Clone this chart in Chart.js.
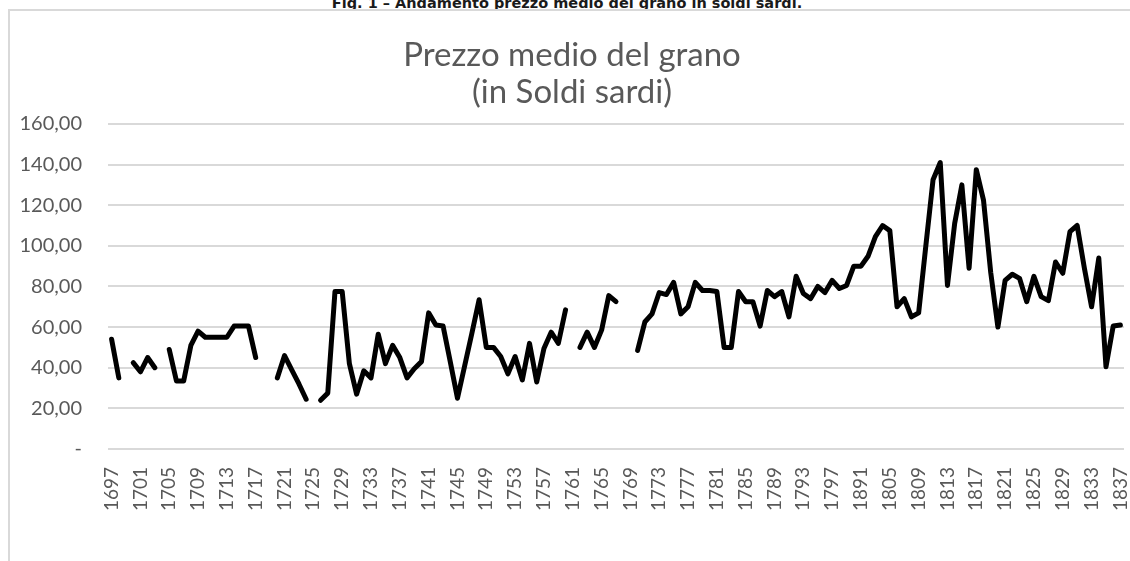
<!DOCTYPE html>
<html>
<head>
<meta charset="utf-8">
<script src="https://cdn.jsdelivr.net/npm/chart.js@4.4.1/dist/chart.umd.min.js"></script>
<style>
    html, body { margin: 0; padding: 0; background: #ffffff; overflow: hidden; }
    #wrap { position: relative; width: 1130px; height: 561px; }
    #caption {
        position: absolute; left: 0; top: -5px; width: 1134px;
        text-align: center; font-family: 'DejaVu Sans', sans-serif;
        font-size: 14.5px; font-weight: bold; color: #1a1a1a; white-space: nowrap;
        line-height: 17px;
    }
    #frame {
        position: absolute; left: 8px; top: 9px; width: 1140px; height: 600px;
        border: 2px solid #d9d9d9; box-sizing: border-box;
    }
    #prezzoChart { position: absolute; left: 0; top: 0; }
</style>
</head>
<body>
<div id="wrap">
    <div id="caption">Fig. 1 – Andamento prezzo medio del grano in soldi sardi.</div>
    <div id="frame"></div>
    <canvas id="prezzoChart" width="1130" height="561"></canvas>
</div>
<script>
// anni (categorie)
const anni = [
    1697, 1698, 1699, 1700, 1701, 1702, 1703, 1704, 1705, 1706,
    1707, 1708, 1709, 1710, 1711, 1712, 1713, 1714, 1715, 1716,
    1717, 1718, 1719, 1720, 1721, 1722, 1723, 1724, 1725, 1726,
    1727, 1728, 1729, 1730, 1731, 1732, 1733, 1734, 1735, 1736,
    1737, 1738, 1739, 1740, 1741, 1742, 1743, 1744, 1745, 1746,
    1747, 1748, 1749, 1750, 1751, 1752, 1753, 1754, 1755, 1756,
    1757, 1758, 1759, 1760, 1761, 1762, 1763, 1764, 1765, 1766,
    1767, 1768, 1769, 1770, 1771, 1772, 1773, 1774, 1775, 1776,
    1777, 1778, 1779, 1780, 1781, 1782, 1783, 1784, 1785, 1786,
    1787, 1788, 1789, 1790, 1791, 1792, 1793, 1794, 1795, 1796,
    1797, 1798, 1799, 1800, 1801, 1802, 1803, 1804, 1805, 1806,
    1807, 1808, 1809, 1810, 1811, 1812, 1813, 1814, 1815, 1816,
    1817, 1818, 1819, 1820, 1821, 1822, 1823, 1824, 1825, 1826,
    1827, 1828, 1829, 1830, 1831, 1832, 1833, 1834, 1835, 1836,
    1837
];

// etichette dell'asse (una ogni 4 anni, come nell'originale)
const etichetteAsse = [
    '1697', '1701', '1705', '1709', '1713', '1717', '1721', '1725', '1729',
    '1733', '1737', '1741', '1745', '1749', '1753', '1757', '1761', '1765',
    '1769', '1773', '1777', '1781', '1785', '1789', '1793', '1797', '1891',
    '1805', '1809', '1813', '1817', '1821', '1825', '1829', '1833', '1837'
];

// prezzo medio del grano in soldi sardi (null = dato mancante)
const prezzi = [
    54, 35, null, 42.5, 38, 45, 40, null, 49, 33.5,
    33.5, 51, 58, 55, 55, 55, 55, 60.5, 60.5, 60.5,
    45, null, null, 35, 46, 39, 32, 24.5, null, 24,
    27.5, 77.5, 77.5, 42, 27, 38.5, 35, 56.5, 42, 51,
    45, 35, 39.5, 43, 67, 61, 60.5, 43, 25, 41,
    57, 73.5, 50, 50, 45.5, 37, 45.5, 34, 52, 33,
    49.5, 57.5, 52, 68.5, null, 50, 57.5, 50, 58.5, 75.5,
    72.5, null, null, 48.5, 62.5, 66.5, 77, 76, 82, 66.5,
    70, 82, 78, 78, 77.5, 50, 50, 77.5, 72.5, 72.5,
    60.5, 78, 75, 77.5, 65, 85, 76.5, 74, 80, 77,
    83, 79, 80.5, 90, 90, 95, 104.5, 110, 107.5, 70,
    74, 65, 67, 100, 132.5, 141, 80.5, 111, 130, 89,
    137.5, 122.5, 87, 60, 83, 86, 84, 72.5, 85, 75,
    73, 92, 86.5, 107, 110, 89, 70, 94, 40.5, 60.5,
    61
];

const grigioTesto = '#595959';
const grigioGriglia = '#d9d9d9';

function formattaValore(v) {
    if (v === 0) return '-';
    return v.toFixed(2).replace('.', ',');
}

const ctx = document.getElementById('prezzoChart').getContext('2d');
new Chart(ctx, {
    type: 'line',
    data: {
        labels: anni,
        datasets: [{
            label: 'Prezzo medio',
            data: prezzi,
            borderColor: '#000000',
            borderWidth: 5,
            borderCapStyle: 'round',
            borderJoinStyle: 'round',
            pointRadius: 0,
            tension: 0,
            spanGaps: false
        }]
    },
    options: {
        responsive: false,
        animation: false,
        layout: {
            padding: { left: 20, right: 6, top: 37, bottom: 0 }
        },
        plugins: {
            legend: { display: false },
            tooltip: { enabled: false },
            title: {
                display: true,
                text: ['Prezzo medio del grano', '(in Soldi sardi)'],
                color: grigioTesto,
                font: { family: 'Lato', size: 33, weight: 'normal', lineHeight: 1.12 },
                padding: { top: 0, bottom: 13 }
            }
        },
        scales: {
            x: {
                offset: true,
                grid: { display: false, drawTicks: false },
                border: { display: false },
                ticks: {
                    autoSkip: false,
                    maxRotation: 90,
                    minRotation: 90,
                    padding: 18,
                    color: grigioTesto,
                    font: { family: 'Lato', size: 19 },
                    callback: function(value, index) {
                        return index % 4 === 0 ? etichetteAsse[index / 4] : null;
                    }
                },
                afterFit: function(scale) {
                    scale.height = 112;
                    scale.paddingLeft = 0;
                    scale.paddingRight = 0;
                }
            },
            y: {
                min: 0,
                max: 160,
                grid: { color: grigioGriglia, lineWidth: 2, drawTicks: false },
                border: { display: false },
                ticks: {
                    stepSize: 20,
                    padding: 26,
                    color: grigioTesto,
                    font: { family: 'Lato', size: 20 },
                    callback: function(value) {
                        return formattaValore(value);
                    }
                },
                afterFit: function(scale) {
                    scale.width = 88;
                }
            }
        }
    }
});
</script>
</body>
</html>
